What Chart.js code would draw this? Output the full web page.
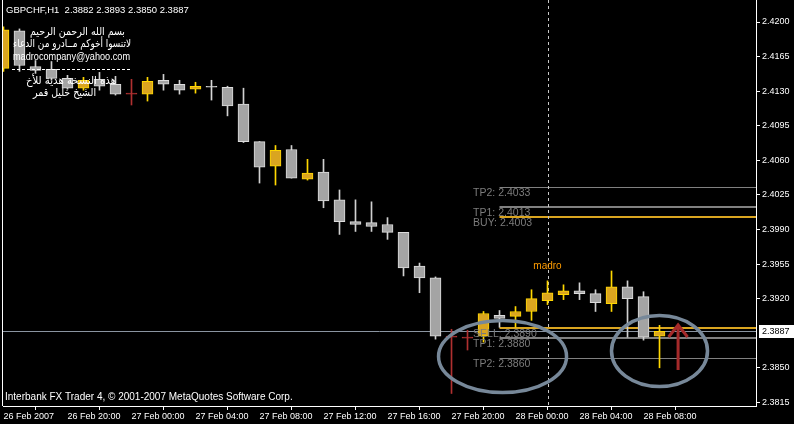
<!DOCTYPE html>
<html>
<head>
<meta charset="utf-8">
<script src="https://cdn.jsdelivr.net/npm/chart.js@4.4.0/dist/chart.umd.min.js"></script>
<style>
  html, body { margin: 0; padding: 0; background: #000; }
</style>
</head>
<body>
<canvas id="grafico" width="794" height="424"></canvas>
<script>
// GBPCHF H1, 26 Feb 16:00 -> 28 Feb 09:00 (um candle por hora)
const aberturas = [2.4153, 2.4191, 2.4155, 2.4152, 2.4143, 2.4133, 2.4142, 2.4137, 2.4127, 2.4127,
                   2.4141, 2.4137, 2.4132, 2.4134, 2.4134, 2.4117, 2.4079, 2.4054, 2.4071, 2.4041,
                   2.4048, 2.4020, 2.3998, 2.3997, 2.3995, 2.3987, 2.3953, 2.3941, 2.3881, 2.3880,
                   2.3882, 2.3903, 2.3902, 2.3907, 2.3918, 2.3924, 2.3928, 2.3925, 2.3915, 2.3932,
                   2.3922, 2.3882];
const maximas = [2.4195, 2.4193, 2.4161, 2.4160, 2.4146, 2.4144, 2.4149, 2.4145, 2.4142, 2.4144,
                 2.4147, 2.4141, 2.4139, 2.4141, 2.4135, 2.4133, 2.4079, 2.4075, 2.4075, 2.4061,
                 2.4061, 2.4030, 2.4020, 2.4018, 2.4002, 2.3987, 2.3956, 2.3942, 2.3889, 2.3888,
                 2.3907, 2.3908, 2.3912, 2.3929, 2.3938, 2.3934, 2.3936, 2.3929, 2.3948, 2.3938,
                 2.3927, 2.3893];
const minimas = [2.4150, 2.4150, 2.4148, 2.4141, 2.4132, 2.4131, 2.4131, 2.4126, 2.4116, 2.4120,
                 2.4131, 2.4127, 2.4128, 2.4121, 2.4105, 2.4078, 2.4037, 2.4035, 2.4042, 2.4040,
                 2.4012, 2.3985, 2.3988, 2.3988, 2.3980, 2.3943, 2.3926, 2.3879, 2.3824, 2.3868,
                 2.3876, 2.3891, 2.3891, 2.3898, 2.3914, 2.3919, 2.3919, 2.3907, 2.3907, 2.3881,
                 2.3878, 2.3850];
const fechamentos = [2.4192, 2.4156, 2.4151, 2.4143, 2.4133, 2.4141, 2.4135, 2.4127, 2.4127, 2.4140,
                     2.4137, 2.4131, 2.4135, 2.4134, 2.4115, 2.4079, 2.4053, 2.4070, 2.4042, 2.4047,
                     2.4019, 2.3998, 2.3995, 2.3993, 2.3987, 2.3951, 2.3941, 2.3882, 2.3881, 2.3880,
                     2.3905, 2.3900, 2.3907, 2.3920, 2.3926, 2.3928, 2.3925, 2.3916, 2.3932, 2.3920,
                     2.3881, 2.3887];
const candlesVermelhos = [8, 28, 29];

const rotulosTempo = ['26 Feb 2007', '26 Feb 20:00', '27 Feb 00:00', '27 Feb 04:00', '27 Feb 08:00',
                      '27 Feb 12:00', '27 Feb 16:00', '27 Feb 20:00', '28 Feb 00:00', '28 Feb 04:00',
                      '28 Feb 08:00'];
const ticksPreco = [2.3815, 2.3850, 2.3920, 2.3955, 2.3990, 2.4025, 2.4060, 2.4095, 2.4130, 2.4165, 2.4200];

// niveis da operacao (objetos do grafico)
const nomesNiveis = ['TP2', 'TP1', 'BUY', 'SELL', 'TP1', 'TP2'];
const precosNiveis = [2.4033, 2.4013, 2.4003, 2.3890, 2.3880, 2.3860];
const inicioNiveis = 31;
const linhaVertical = 34;

const textosArabe = ['بسم الله الرحمن الرحيم', 'لاتنسوا أخوكم مــادرو من الدعاء', 'madrocompany@yahoo.com',
                     'هذه النسخة هدية للأخ', 'الشيخ خليل قمر'];

const fonte = '"Liberation Sans", Arial, sans-serif';
const ultimo = fechamentos.length - 1;

function tipoCandle(i) {
    if (fechamentos[i] > aberturas[i]) return 'alta';
    if (fechamentos[i] < aberturas[i]) return 'baixa';
    return candlesVermelhos.includes(i) ? 'vermelho' : 'doji';
}
const cores = {
    alta:     { fundo: '#daa520', borda: '#ffd700', pavio: '#ffd700' },
    baixa:    { fundo: '#a4a4a4', borda: '#dcdcdc', pavio: '#d0d0d0' },
    doji:     { fundo: '#d8d8d8', borda: '#d8d8d8', pavio: '#d8d8d8' },
    vermelho: { fundo: '#b03030', borda: '#b03030', pavio: '#b03030' }
};

const corpos = aberturas.map((o, i) => ({ x: i, y: [o, fechamentos[i]] }));
const pavios = minimas.map((l, i) => ({ x: i, y: [l, maximas[i]] }));

function textoAjustado(ctx, txt, x, y, largura, alinhamento) {
    const w = ctx.measureText(txt).width;
    ctx.save();
    ctx.translate(x, y);
    ctx.scale(largura / w, 1);
    ctx.textAlign = alinhamento;
    ctx.fillText(txt, 0, 0);
    ctx.restore();
}

const pluginObjetos = {
    id: 'objetos',
    beforeDatasetsDraw(chart) {
        const { ctx, chartArea: a, scales: { x, y } } = chart;
        ctx.save();
        // linha do bid
        const yb = Math.round(y.getPixelForValue(fechamentos[ultimo])) + 0.5;
        ctx.strokeStyle = '#8a94a0';
        ctx.lineWidth = 1;
        ctx.beginPath(); ctx.moveTo(a.left, yb); ctx.lineTo(a.right, yb); ctx.stroke();

        // niveis TP / BUY / SELL
        const x0 = x.getPixelForValue(inicioNiveis);
        nomesNiveis.forEach((nome, k) => {
            const yy = y.getPixelForValue(precosNiveis[k]);
            const grosso = nome !== 'TP2';
            ctx.strokeStyle = (nome === 'BUY' || nome === 'SELL') ? '#daa520' : '#808080';
            ctx.lineWidth = grosso ? 2 : 1;
            const yl = grosso ? Math.round(yy) : Math.round(yy) + 0.5;
            ctx.beginPath(); ctx.moveTo(x0, yl); ctx.lineTo(a.right, yl); ctx.stroke();
        });

        // linha vertical tracejada
        const xv = Math.round(x.getPixelForValue(linhaVertical)) + 0.5;
        ctx.strokeStyle = '#c8c8c8';
        ctx.lineWidth = 1;
        ctx.setLineDash([3, 3]);
        ctx.beginPath(); ctx.moveTo(xv, a.top); ctx.lineTo(xv, a.bottom); ctx.stroke();
        ctx.restore();
    },
    afterDatasetsDraw(chart) {
        const { ctx, chartArea: a, scales: { x, y } } = chart;
        ctx.save();
        ctx.textBaseline = 'middle';

        // cabecalho
        ctx.fillStyle = '#ffffff';
        ctx.font = '9.5px ' + fonte;
        ctx.textAlign = 'left';
        const cab = 'GBPCHF,H1  ' + [aberturas[ultimo], maximas[ultimo], minimas[ultimo], fechamentos[ultimo]]
            .map(v => v.toFixed(4)).join(' ');
        ctx.fillText(cab, 6, 10);

        // textos do autor
        ctx.font = '11px "DejaVu Sans", sans-serif';
        textoAjustado(ctx, textosArabe[0], 125, 32, 95, 'right');
        textoAjustado(ctx, textosArabe[1], 131, 44, 118, 'right');
        ctx.font = '10px ' + fonte;
        textoAjustado(ctx, textosArabe[2], 13, 57, 117, 'left');
        ctx.font = '11px "DejaVu Sans", sans-serif';
        textoAjustado(ctx, textosArabe[3], 116, 81, 90, 'right');
        textoAjustado(ctx, textosArabe[4], 96, 93, 63, 'right');
        ctx.strokeStyle = '#ffffff';
        ctx.lineWidth = 1;
        ctx.setLineDash([3, 2]);
        ctx.beginPath(); ctx.moveTo(12, 69.5); ctx.lineTo(132, 69.5); ctx.stroke();
        ctx.setLineDash([]);

        // rotulos dos niveis
        ctx.font = '10.5px ' + fonte;
        ctx.fillStyle = '#7c7c7c';
        const xt = x.getPixelForValue(inicioNiveis - 1.65);
        nomesNiveis.forEach((nome, k) => {
            ctx.fillText(nome + ': ' + precosNiveis[k].toFixed(4), xt, y.getPixelForValue(precosNiveis[k]) + 6);
        });

        // madro
        ctx.fillStyle = '#ff9c00';
        ctx.font = '10px ' + fonte;
        ctx.textAlign = 'center';
        ctx.fillText('madro', x.getPixelForValue(linhaVertical), y.getPixelForValue(2.3953));

        // elipses
        ctx.strokeStyle = '#778899';
        ctx.lineWidth = 3.5;
        ctx.beginPath();
        ctx.ellipse(x.getPixelForValue(31.19), y.getPixelForValue(2.38614), 64, 36, 0, 0, Math.PI * 2);
        ctx.stroke();
        ctx.beginPath();
        ctx.ellipse(x.getPixelForValue(41.0), y.getPixelForValue(2.38670), 48, 35.5, 0, 0, Math.PI * 2);
        ctx.stroke();

        // seta
        const xs = x.getPixelForValue(42.16);
        const yTopo = y.getPixelForValue(2.38933);
        ctx.strokeStyle = '#a52a2a';
        ctx.lineWidth = 3;
        ctx.beginPath();
        ctx.moveTo(xs, y.getPixelForValue(2.38478)); ctx.lineTo(xs, yTopo);
        ctx.moveTo(xs - 9.5, yTopo + 12); ctx.lineTo(xs, yTopo); ctx.lineTo(xs + 9.5, yTopo + 12);
        ctx.stroke();

        // rodape
        ctx.fillStyle = '#ffffff';
        ctx.font = '10px ' + fonte;
        ctx.textAlign = 'left';
        ctx.fillText('Interbank FX Trader 4, © 2001-2007 MetaQuotes Software Corp.', 5, 397);

        // borda esquerda
        ctx.strokeStyle = '#ffffff';
        ctx.lineWidth = 1;
        ctx.beginPath(); ctx.moveTo(2.5, a.top); ctx.lineTo(2.5, a.bottom); ctx.stroke();
        ctx.restore();
    },
    afterDraw(chart) {
        const { ctx, chartArea: a, scales: { y } } = chart;
        const yp = Math.round(y.getPixelForValue(fechamentos[ultimo]));
        ctx.save();
        ctx.fillStyle = '#ffffff';
        ctx.fillRect(a.right + 3, yp - 6, 40, 13);
        ctx.fillStyle = '#000000';
        ctx.font = '9px ' + fonte;
        ctx.textBaseline = 'middle';
        ctx.fillText(fechamentos[ultimo].toFixed(4), a.right + 6, yp + 0.5);
        ctx.restore();
    }
};

new Chart(document.getElementById('grafico'), {
    type: 'bar',
    data: {
        datasets: [
            {
                label: 'corpo',
                data: corpos,
                order: 0,
                grouped: false,
                barThickness: 11,
                minBarLength: 1,
                borderWidth: 1,
                borderSkipped: false,
                backgroundColor: c => cores[tipoCandle(c.dataIndex)].fundo,
                borderColor: c => cores[tipoCandle(c.dataIndex)].borda
            },
            {
                label: 'pavio',
                data: pavios,
                order: 1,
                grouped: false,
                barThickness: 1,
                borderWidth: 0,
                backgroundColor: c => cores[tipoCandle(c.dataIndex)].pavio
            }
        ]
    },
    options: {
        responsive: false,
        animation: false,
        devicePixelRatio: 1,
        layout: { padding: { left: 3, top: 0, right: 0, bottom: 0 } },
        plugins: { legend: { display: false }, tooltip: { enabled: false } },
        scales: {
            x: {
                type: 'linear',
                position: 'bottom',
                min: -0.03,
                max: 47.03,
                offset: false,
                afterBuildTicks: s => { s.ticks = rotulosTempo.map((_, k) => ({ value: k * 4 })); },
                afterFit: s => { s.height = 18; s.paddingLeft = 0; s.paddingRight = 0; },
                ticks: {
                    color: '#ffffff',
                    font: { family: fonte, size: 9 },
                    align: 'start',
                    padding: 1,
                    autoSkip: false,
                    maxRotation: 0,
                    callback: (v, idx) => rotulosTempo[idx]
                },
                grid: { drawOnChartArea: false, color: '#ffffff', tickLength: 4 },
                border: { color: '#ffffff' }
            },
            y: {
                type: 'linear',
                position: 'right',
                min: 2.381134,
                max: 2.422227,
                afterBuildTicks: s => { s.ticks = ticksPreco.map(v => ({ value: v })); },
                afterFit: s => { s.width = 38; s.paddingTop = 0; s.paddingBottom = 0; },
                ticks: {
                    color: '#ffffff',
                    font: { family: fonte, size: 9 },
                    padding: 2,
                    callback: v => v.toFixed(4)
                },
                grid: { drawOnChartArea: false, color: '#ffffff', tickLength: 4 },
                border: { color: '#ffffff' }
            }
        }
    },
    plugins: [pluginObjetos]
});
</script>
</body>
</html>
